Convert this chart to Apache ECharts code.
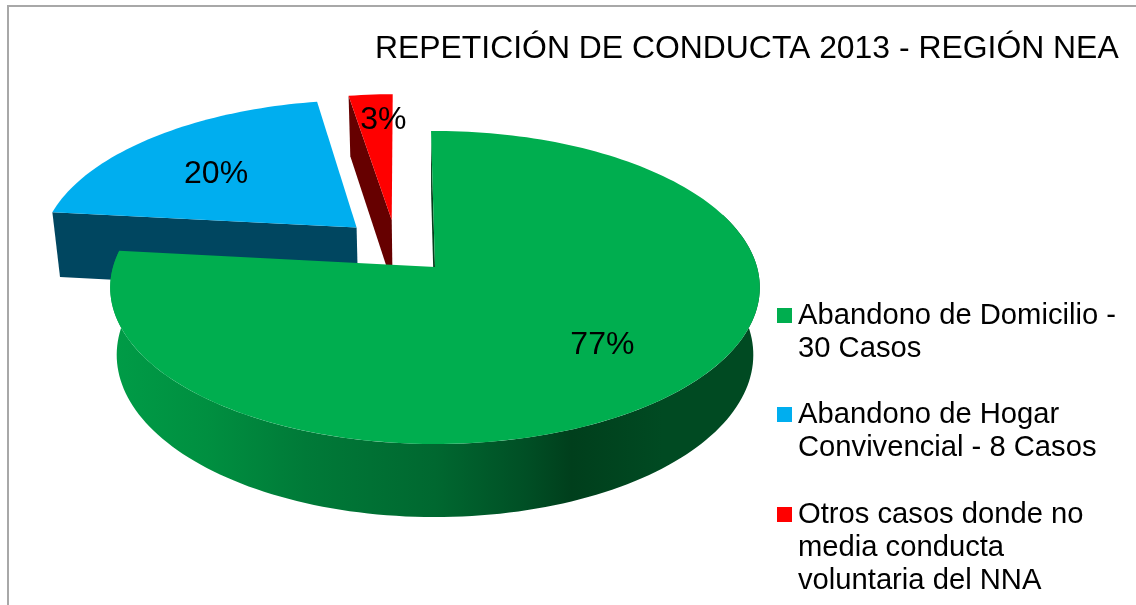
<!DOCTYPE html>
<html><head><meta charset="utf-8">
<style>html,body{margin:0;padding:0;background:#fff}#c{width:1136px;height:605px}</style>
<script src="https://cdn.jsdelivr.net/npm/echarts@6/dist/echarts.min.js"></script>
</head><body><div id="c"></div>
<script>
var titleText = 'REPETICIÓN DE CONDUCTA 2013 - REGIÓN NEA';
var categories = ['Abandono de Domicilio - 30 Casos', 'Abandono de Hogar Convivencial - 8 Casos', 'Otros casos donde no media conducta voluntaria del NNA'];
var legendLines = [['Abandono de Domicilio -', '30 Casos'], ['Abandono de Hogar', 'Convivencial - 8 Casos'], ['Otros casos donde no', 'media conducta', 'voluntaria del NNA']];
var casos = [30, 8, 1];
var percentLabels = ['77%', '20%', '3%'];
var topColors = ['#00AE4F', '#00AEEF', '#FF0000'];
var wallColors = ['#063d1c', '#004660', '#660000'];
var explode = [[0, 0], [-0.252, -0.266], [-0.14, -0.318]];
var labelAngle = [135, 309.4, 357.6];
var labelRadius = [0.68, 0.622, 0.778];
var layerOrder = [4, 2, 3];
var legendTops = [265, 364, 431];

var CX = 435, CY = 267, RX = 322, RY = 153.8, PERSP = 0.131, BOTTOM_SCALE = 0.98, DEPTH = 66.6, ROT = -0.8;
var total = casos.reduce(function (a, b) { return a + b; }, 0);
var fullFont = '"Liberation Sans", Arial, sans-serif';

function proj(X, Y, low) {
  var s = 1 / (1 - PERSP * Y), k = low ? BOTTOM_SCALE : 1, d = low ? DEPTH : 0;
  return [CX + RX * k * X * s, CY + (RY * k * Y + d) * s];
}
function disc(deg, r, off) {
  var a = (deg + ROT) * Math.PI / 180;
  return [off[0] + r * Math.sin(a), off[1] - r * Math.cos(a)];
}
function arcPts(a0, a1, off, low) {
  var pts = [], n = Math.max(2, Math.ceil(Math.abs(a1 - a0) / 1.5));
  for (var i = 0; i <= n; i++) {
    var d = disc(a0 + (a1 - a0) * i / n, 1, off);
    pts.push(proj(d[0], d[1], low));
  }
  return pts;
}
var sideGradient = { type: 'linear', x: 0, y: 0, x2: 1, y2: 0, colorStops: [
  { offset: 0, color: '#009C47' }, { offset: 0.15, color: '#008F40' }, { offset: 0.3, color: '#007A38' },
  { offset: 0.5, color: '#006830' }, { offset: 0.64, color: '#004F25' }, { offset: 0.71, color: '#003F1C' },
  { offset: 0.85, color: '#004A22' }, { offset: 1, color: '#004A22' }
] };

function sliceRender(idx) {
  return function () {
    var start = 0;
    for (var i = 0; i < idx; i++) start += casos[i] / total * 360;
    var end = start + casos[idx] / total * 360, off = explode[idx];
    var top = [proj(off[0], off[1], false)].concat(arcPts(start, end, off, false));
    var children = [];
    function poly(points, fill, z2) {
      children.push({ type: 'polygon', shape: { points: points }, style: { fill: fill }, z2: z2 });
    }
    var apexT = proj(off[0], off[1], false), apexB = proj(off[0], off[1], true);
    var d0 = disc(start, 1, off);
    poly([proj(d0[0], d0[1], false), apexT, apexB, proj(d0[0], d0[1], true)], wallColors[idx], 1);
    if (idx === 0) {
      var a = arcPts(70, end, off, false), b = arcPts(70, end, off, true).reverse();
      poly(a.concat(b), sideGradient, 2);
    }
    poly(top, topColors[idx], 3);
    var ld = disc(labelAngle[idx], labelRadius[idx], off), lp = proj(ld[0], ld[1], false);
    children.push({ type: 'text', x: lp[0], y: lp[1], z2: 5, style: {
      text: percentLabels[idx], fill: '#000', font: '32px ' + fullFont, align: 'center', verticalAlign: 'middle' } });
    return { type: 'group', children: children };
  };
}

function legendText(idx) {
  var lines = legendLines[idx], pad = [];
  for (var i = 1; i < lines.length; i++) pad.push(' ');
  return pad.concat(lines).join('\n');
}

var option = {
  animation: false,
  backgroundColor: '#fff',
  title: { text: titleText, left: 375, top: 33, padding: 0,
    textStyle: { fontFamily: fullFont, fontWeight: 'normal', fontSize: 31.9, color: '#000' } },
  graphic: [{ type: 'rect', silent: true, z: -1, shape: { x: 8, y: 6, width: 1300, height: 800 },
    style: { fill: 'none', stroke: '#a8a8a8', lineWidth: 2 } }],
  legend: categories.map(function (name, i) {
    return { show: true, orient: 'vertical', left: 777, top: legendTops[i], padding: 0, data: [name], icon: 'rect',
      itemWidth: 15, itemHeight: 15, itemGap: 0, selectedMode: false,
      formatter: function () { return legendText(i); },
      textStyle: { fontFamily: fullFont, fontSize: 29.2, lineHeight: 33, color: '#000', padding: [2, 0, 0, 1] } };
  }),
  series: categories.map(function (name, i) {
    return { type: 'custom', name: name, coordinateSystem: 'none', silent: true, z: layerOrder[i],
      itemStyle: { color: topColors[i] }, data: [casos[i]], renderItem: sliceRender(i) };
  })
};
echarts.init(document.getElementById('c'), null, { renderer: 'canvas' }).setOption(option);
</script></body></html>
